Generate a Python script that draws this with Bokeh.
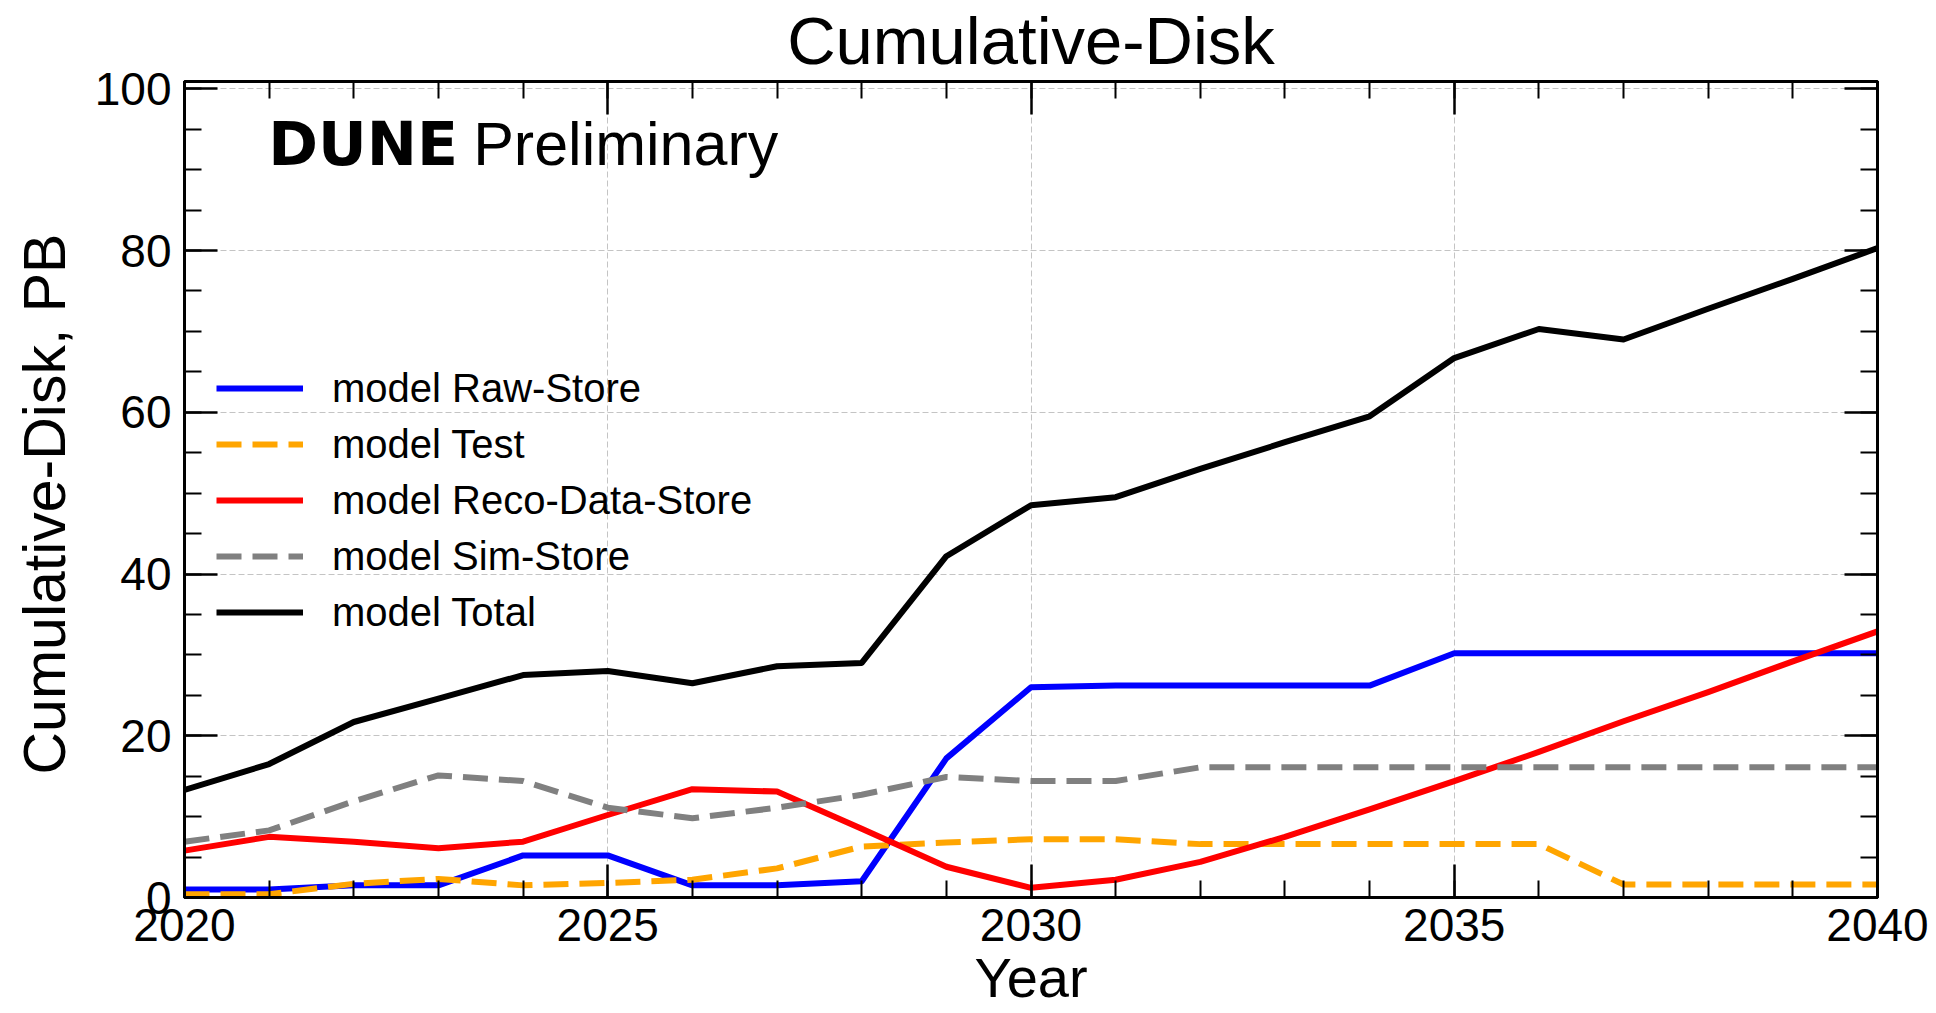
from bokeh.plotting import figure
from bokeh.models import (Range1d, LinearAxis, SingleIntervalTicker, Legend,
                          LegendItem, Label, Title)
from bokeh.embed import file_html
from bokeh.resources import INLINE

# ---- data ----
years = list(range(2020, 2041))
raw_store = [1.0, 1.0, 1.5, 1.5, 5.2, 5.2, 1.5, 1.5, 2.0, 17.2, 26.0,
             26.2, 26.2, 26.2, 26.2, 30.2, 30.2, 30.2, 30.2, 30.2, 30.2]
test = [0.4, 0.4, 1.7, 2.3, 1.5, 1.8, 2.2, 3.6, 6.3, 6.8, 7.2,
        7.2, 6.6, 6.6, 6.6, 6.6, 6.6, 1.6, 1.6, 1.6, 1.6]
reco_data_store = [5.8, 7.5, 6.9, 6.1, 6.9, 10.2, 13.4, 13.1, 8.5, 3.8, 1.2,
                   2.2, 4.4, 7.5, 10.9, 14.4, 18.0, 21.8, 25.4, 29.2, 32.9]
sim_store = [6.9, 8.3, 11.9, 15.1, 14.4, 11.1, 9.8, 11.1, 12.7, 14.9, 14.4,
             14.4, 16.1, 16.1, 16.1, 16.1, 16.1, 16.1, 16.1, 16.1, 16.1]
total = [13.3, 16.5, 21.7, 24.6, 27.5, 28.0, 26.5, 28.6, 29.0, 42.2, 48.5,
         49.5, 53.0, 56.3, 59.5, 66.7, 70.3, 69.0, 72.8, 76.5, 80.3]

series_labels = ["model Raw-Store", "model Test", "model Reco-Data-Store",
                 "model Sim-Store", "model Total"]
title_text = "Cumulative-Disk"
x_label = "Year"
y_label = "Cumulative-Disk, PB"

FONT = "Liberation Sans"

p = figure(width=1936, height=1013, output_backend="svg", toolbar_location=None,
           x_range=Range1d(2020, 2040), y_range=Range1d(0, 100.9),
           min_border_left=181, min_border_right=59,
           min_border_top=81, min_border_bottom=116)
p.background_fill_color = "white"
p.border_fill_color = "white"
p.outline_line_color = "black"
p.outline_line_width = 3

# title
p.title.text = title_text
p.title.align = "center"
p.title.vertical_align = "top"
p.title.text_font = FONT
p.title.text_font_size = "67px"
p.title.text_font_style = "normal"
p.title.text_color = "black"
p.title.standoff = 4

x_ticker = SingleIntervalTicker(interval=5, num_minor_ticks=5)
y_ticker = SingleIntervalTicker(interval=20, num_minor_ticks=4)


def style_axis(ax, show_labels=True):
    ax.axis_line_width = 3
    ax.axis_line_color = "black"
    ax.major_tick_in = 33
    ax.major_tick_out = 0
    ax.minor_tick_in = 17
    ax.minor_tick_out = 0
    ax.major_tick_line_width = 2.5
    ax.minor_tick_line_width = 2
    ax.major_tick_line_color = "black"
    ax.minor_tick_line_color = "black"
    ax.major_label_text_font = FONT
    if show_labels:
        ax.major_label_text_font_size = "46px"
        ax.major_label_text_color = "black"
    else:
        ax.major_label_text_font_size = "0px"
        ax.major_label_text_color = None
        ax.major_label_standoff = 0


xa = p.xaxis[0]
xa.ticker = x_ticker
style_axis(xa)
xa.major_label_standoff = 11
xa.axis_label = x_label
xa.axis_label_standoff = 2
xa.axis_label_text_font = FONT
xa.axis_label_text_font_size = "56px"
xa.axis_label_text_font_style = "normal"
xa.axis_label_text_color = "black"

ya = p.yaxis[0]
ya.ticker = y_ticker
style_axis(ya)
ya.major_label_standoff = 13

top_ax = LinearAxis(ticker=x_ticker)
style_axis(top_ax, show_labels=False)
p.add_layout(top_ax, "above")
right_ax = LinearAxis(ticker=y_ticker)
style_axis(right_ax, show_labels=False)
p.add_layout(right_ax, "right")

for g in (p.xgrid[0], p.ygrid[0]):
    g.grid_line_color = "#c4c4c4"
    g.grid_line_width = 1
    g.grid_line_dash = "6 3"
p.xgrid[0].ticker = x_ticker
p.ygrid[0].ticker = y_ticker

# y axis label as a side-panel title (placed along the axis like the reference)
p.add_layout(Title(text=y_label, align="left", offset=123, vertical_align="top",
                   standoff=23, text_font=FONT, text_font_size="59px",
                   text_font_style="normal", text_color="black"), "left")

# lines
r_raw = p.line(years, raw_store, line_color="#0000ff", line_width=6, line_join="round")
r_test = p.line(years, test, line_color="#ffa500", line_width=6, line_dash="25 11")
r_reco = p.line(years, reco_data_store, line_color="#ff0000", line_width=6, line_join="round")
r_sim = p.line(years, sim_store, line_color="#808080", line_width=6, line_dash="25 11")
r_tot = p.line(years, total, line_color="#000000", line_width=6, line_join="round")

legend = Legend(items=[LegendItem(label=lab, renderers=[r]) for lab, r in
                       zip(series_labels, [r_raw, r_test, r_reco, r_sim, r_tot])],
                location=(32, 262), padding=0, margin=0, spacing=10,
                glyph_width=87, glyph_height=46, label_height=46,
                label_standoff=29, label_text_font=FONT,
                label_text_font_size="40px", label_text_color="black",
                border_line_alpha=0, background_fill_alpha=0)
p.add_layout(legend)

# DUNE Preliminary
p.add_layout(Label(x=2020.99, y=93.2, text="DUNE", text_baseline="alphabetic",
                   text_font="DejaVu Sans", text_font_style="bold",
                   text_font_size="60px", text_color="black"))
p.add_layout(Label(x=2023.41, y=93.2, text="Preliminary", text_baseline="alphabetic",
                   text_font=FONT, text_font_size="61px", text_color="black"))

open("out.html", "w").write(file_html(p, INLINE))
